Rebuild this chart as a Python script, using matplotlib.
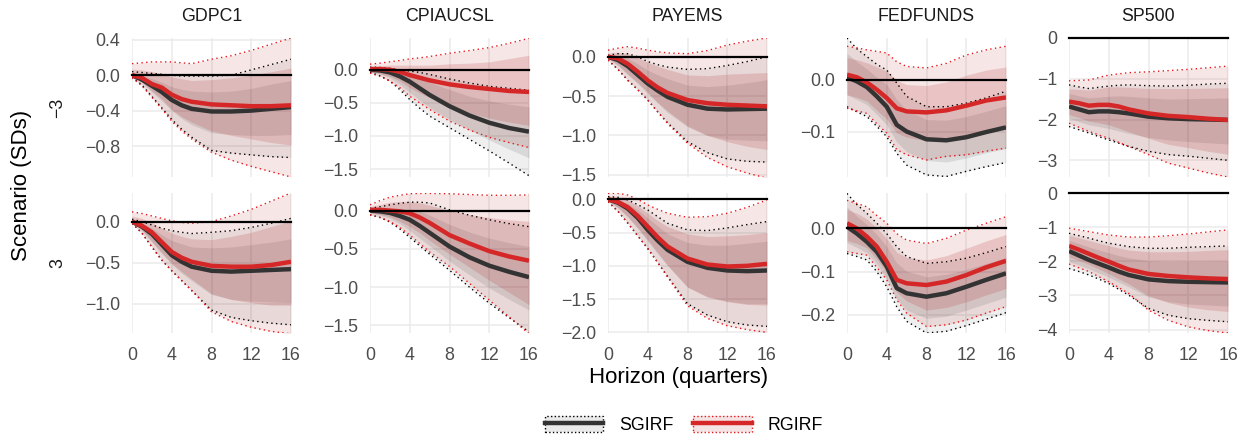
import numpy as np
import matplotlib.pyplot as plt
from matplotlib.lines import Line2D
from matplotlib.patches import Patch
from matplotlib.legend_handler import HandlerTuple
from matplotlib.ticker import MultipleLocator

plt.rcParams['font.family'] = ['Liberation Sans', 'DejaVu Sans']

# horizons (quarters) at which the IRFs are read
horizon = [0, 1, 2, 3, 4, 5, 6, 8, 10, 12, 14, 16]
variables = ['GDPC1', 'CPIAUCSL', 'PAYEMS', 'FEDFUNDS', 'SP500']
scenarios = ['\u22123', '3']

# each block: median, inner lo, inner hi, outer lo, outer hi
gdp_neg_sg = [
    [0, -0.05, -0.12, -0.19, -0.28, -0.34, -0.38, -0.41, -0.41, -0.40, -0.38, -0.36],
    [-0.01, -0.08, -0.19, -0.29, -0.40, -0.49, -0.56, -0.65, -0.67, -0.68, -0.68, -0.67],
    [0.02, -0.01, -0.04, -0.08, -0.13, -0.16, -0.18, -0.19, -0.18, -0.15, -0.10, -0.06],
    [-0.02, -0.11, -0.24, -0.37, -0.50, -0.61, -0.70, -0.85, -0.88, -0.90, -0.92, -0.93],
    [0.04, 0.03, 0.02, 0.01, 0.0, -0.01, -0.01, -0.01, 0.0, 0.06, 0.12, 0.18]]
gdp_neg_rg = [
    [0, -0.03, -0.10, -0.14, -0.22, -0.27, -0.30, -0.33, -0.34, -0.35, -0.35, -0.34],
    [-0.02, -0.08, -0.18, -0.27, -0.39, -0.47, -0.53, -0.63, -0.68, -0.72, -0.76, -0.79],
    [0.07, 0.06, 0.04, 0.02, -0.02, -0.04, -0.06, -0.05, -0.03, 0.0, 0.04, 0.08],
    [-0.03, -0.12, -0.25, -0.38, -0.52, -0.63, -0.72, -0.87, -0.96, -1.03, -1.09, -1.15],
    [0.13, 0.14, 0.15, 0.15, 0.15, 0.14, 0.13, 0.18, 0.22, 0.28, 0.35, 0.42]]
gdp_pos_sg = [
    [0, -0.06, -0.15, -0.28, -0.41, -0.49, -0.55, -0.60, -0.61, -0.60, -0.59, -0.58],
    [-0.01, -0.11, -0.25, -0.39, -0.52, -0.63, -0.72, -0.89, -0.95, -0.97, -0.98, -0.99],
    [0.02, -0.02, -0.08, -0.16, -0.23, -0.27, -0.31, -0.32, -0.31, -0.28, -0.25, -0.21],
    [-0.02, -0.14, -0.31, -0.47, -0.60, -0.72, -0.84, -1.08, -1.17, -1.21, -1.24, -1.26],
    [0.03, 0.0, -0.04, -0.08, -0.11, -0.13, -0.145, -0.13, -0.11, -0.07, -0.02, 0.04]]
gdp_pos_rg = [
    [0, -0.05, -0.13, -0.25, -0.37, -0.44, -0.49, -0.54, -0.55, -0.55, -0.53, -0.49],
    [-0.01, -0.10, -0.24, -0.38, -0.51, -0.61, -0.70, -0.88, -0.95, -0.99, -1.02, -1.02],
    [0.07, 0.04, -0.01, -0.08, -0.14, -0.18, -0.21, -0.22, -0.18, -0.13, -0.06, 0.01],
    [-0.02, -0.14, -0.31, -0.47, -0.60, -0.72, -0.84, -1.10, -1.22, -1.29, -1.34, -1.37],
    [0.12, 0.10, 0.07, 0.04, 0.01, -0.01, -0.02, 0.0, 0.07, 0.15, 0.25, 0.35]]

cpi_neg_sg = [
    [0, -0.01, -0.04, -0.10, -0.18, -0.28, -0.38, -0.55, -0.69, -0.80, -0.88, -0.935],
    [-0.02, -0.06, -0.12, -0.22, -0.34, -0.46, -0.57, -0.75, -0.91, -1.06, -1.20, -1.33],
    [0.02, 0.02, 0.0, -0.04, -0.08, -0.14, -0.19, -0.30, -0.40, -0.47, -0.52, -0.56],
    [-0.04, -0.09, -0.17, -0.30, -0.45, -0.58, -0.70, -0.875, -1.05, -1.225, -1.41, -1.60],
    [0.04, 0.035, 0.02, 0.0, -0.02, -0.04, -0.07, -0.14, -0.20, -0.25, -0.28, -0.31]]
cpi_neg_rg = [
    [0.01, 0.01, 0.0, -0.03, -0.08, -0.12, -0.16, -0.22, -0.26, -0.29, -0.32, -0.335],
    [-0.03, -0.06, -0.10, -0.17, -0.27, -0.35, -0.42, -0.55, -0.65, -0.73, -0.79, -0.84],
    [0.055, 0.064, 0.07, 0.07, 0.07, 0.07, 0.07, 0.09, 0.10, 0.12, 0.17, 0.22],
    [-0.05, -0.10, -0.17, -0.27, -0.40, -0.50, -0.60, -0.775, -0.91, -1.02, -1.10, -1.175],
    [0.085, 0.10, 0.12, 0.14, 0.165, 0.18, 0.20, 0.25, 0.29, 0.335, 0.40, 0.475]]
cpi_pos_sg = [
    [0, -0.01, -0.03, -0.07, -0.12, -0.20, -0.29, -0.47, -0.61, -0.72, -0.80, -0.87],
    [-0.03, -0.06, -0.10, -0.17, -0.26, -0.36, -0.46, -0.66, -0.84, -1.01, -1.16, -1.30],
    [0.02, 0.03, 0.03, 0.03, 0.02, -0.01, -0.06, -0.18, -0.28, -0.36, -0.42, -0.47],
    [-0.055, -0.09, -0.15, -0.24, -0.35, -0.46, -0.57, -0.78, -1.00, -1.21, -1.40, -1.585],
    [0.03, 0.05, 0.075, 0.095, 0.11, 0.11, 0.10, 0.01, -0.06, -0.12, -0.17, -0.21]]
cpi_pos_rg = [
    [0.01, 0.01, 0.0, -0.01, -0.035, -0.09, -0.16, -0.32, -0.43, -0.53, -0.60, -0.655],
    [-0.03, -0.05, -0.08, -0.14, -0.21, -0.29, -0.39, -0.57, -0.74, -0.91, -1.07, -1.23],
    [0.05, 0.08, 0.11, 0.12, 0.12, 0.10, 0.07, 0.0, -0.05, -0.09, -0.12, -0.14],
    [-0.055, -0.09, -0.14, -0.22, -0.32, -0.43, -0.54, -0.73, -0.95, -1.17, -1.39, -1.61],
    [0.075, 0.13, 0.175, 0.20, 0.22, 0.225, 0.225, 0.22, 0.21, 0.20, 0.20, 0.205]]

pay_neg_sg = [
    [0, -0.04, -0.12, -0.23, -0.34, -0.43, -0.51, -0.61, -0.66, -0.67, -0.665, -0.66],
    [-0.02, -0.11, -0.23, -0.34, -0.47, -0.59, -0.71, -0.89, -1.00, -1.05, -1.06, -1.07],
    [0.01, 0.01, -0.02, -0.09, -0.17, -0.23, -0.28, -0.36, -0.38, -0.36, -0.33, -0.29],
    [-0.04, -0.16, -0.30, -0.42, -0.55, -0.70, -0.84, -1.08, -1.22, -1.30, -1.33, -1.34],
    [0.02, 0.04, 0.04, 0.0, -0.06, -0.10, -0.13, -0.16, -0.15, -0.11, -0.06, 0.0]]
pay_neg_rg = [
    [0, -0.02, -0.09, -0.19, -0.30, -0.39, -0.46, -0.55, -0.59, -0.61, -0.62, -0.63],
    [-0.02, -0.10, -0.22, -0.33, -0.45, -0.58, -0.69, -0.88, -1.00, -1.08, -1.14, -1.18],
    [0.05, 0.06, 0.04, -0.01, -0.07, -0.12, -0.16, -0.23, -0.24, -0.22, -0.21, -0.20],
    [-0.04, -0.16, -0.30, -0.42, -0.55, -0.70, -0.85, -1.10, -1.28, -1.40, -1.48, -1.545],
    [0.085, 0.11, 0.13, 0.11, 0.085, 0.065, 0.05, 0.04, 0.08, 0.15, 0.20, 0.24]]
pay_pos_sg = [
    [0, -0.05, -0.14, -0.28, -0.46, -0.62, -0.76, -0.94, -1.03, -1.07, -1.08, -1.07],
    [-0.02, -0.13, -0.27, -0.44, -0.63, -0.82, -1.00, -1.32, -1.46, -1.53, -1.57, -1.57],
    [0.02, 0.0, -0.06, -0.16, -0.28, -0.40, -0.52, -0.65, -0.69, -0.69, -0.66, -0.63],
    [-0.035, -0.18, -0.36, -0.55, -0.74, -0.95, -1.16, -1.57, -1.74, -1.84, -1.89, -1.91],
    [0.04, 0.03, -0.01, -0.08, -0.16, -0.26, -0.36, -0.46, -0.47, -0.43, -0.38, -0.335]]
pay_pos_rg = [
    [0, -0.04, -0.12, -0.25, -0.41, -0.57, -0.71, -0.89, -0.98, -1.01, -1.00, -0.97],
    [-0.02, -0.12, -0.26, -0.43, -0.61, -0.80, -0.99, -1.32, -1.47, -1.54, -1.58, -1.59],
    [0.05, 0.04, -0.01, -0.10, -0.21, -0.32, -0.41, -0.52, -0.56, -0.55, -0.53, -0.50],
    [-0.035, -0.18, -0.36, -0.55, -0.74, -0.95, -1.17, -1.60, -1.79, -1.90, -1.96, -2.00],
    [0.09, 0.09, 0.065, 0.0, -0.085, -0.15, -0.21, -0.27, -0.26, -0.21, -0.12, -0.01]]

ff_neg_sg = [
    [0.005, -0.003, -0.014, -0.032, -0.052, -0.087, -0.100, -0.115, -0.117, -0.111, -0.101, -0.092],
    [-0.029, -0.038, -0.048, -0.067, -0.087, -0.120, -0.139, -0.156, -0.159, -0.151, -0.141, -0.133],
    [0.051, 0.035, 0.021, 0.005, -0.009, -0.038, -0.059, -0.077, -0.078, -0.071, -0.061, -0.050],
    [-0.052, -0.062, -0.071, -0.090, -0.110, -0.142, -0.165, -0.184, -0.187, -0.177, -0.168, -0.160],
    [0.081, 0.060, 0.045, 0.030, 0.019, -0.006, -0.032, -0.052, -0.052, -0.045, -0.035, -0.022]]
ff_neg_rg = [
    [0.010, 0.005, -0.005, -0.019, -0.035, -0.055, -0.061, -0.063, -0.059, -0.050, -0.040, -0.034],
    [-0.029, -0.034, -0.041, -0.059, -0.076, -0.103, -0.111, -0.118, -0.112, -0.107, -0.099, -0.093],
    [0.043, 0.039, 0.033, 0.025, 0.017, -0.001, -0.009, -0.011, -0.004, 0.009, 0.019, 0.025],
    [-0.055, -0.060, -0.065, -0.085, -0.103, -0.135, -0.145, -0.155, -0.148, -0.145, -0.138, -0.132],
    [0.065, 0.062, 0.058, 0.055, 0.052, 0.035, 0.026, 0.023, 0.032, 0.048, 0.058, 0.065]]
ff_pos_sg = [
    [0.004, -0.012, -0.031, -0.054, -0.088, -0.138, -0.150, -0.158, -0.150, -0.135, -0.119, -0.104],
    [-0.033, -0.044, -0.056, -0.082, -0.116, -0.164, -0.189, -0.208, -0.203, -0.189, -0.174, -0.159],
    [0.050, 0.028, 0.009, -0.014, -0.042, -0.080, -0.099, -0.112, -0.106, -0.095, -0.081, -0.067],
    [-0.058, -0.065, -0.073, -0.100, -0.135, -0.181, -0.215, -0.242, -0.238, -0.225, -0.210, -0.195],
    [0.081, 0.055, 0.035, 0.012, -0.012, -0.042, -0.065, -0.081, -0.077, -0.069, -0.056, -0.042]]
ff_pos_rg = [
    [0.012, 0.0, -0.019, -0.042, -0.077, -0.119, -0.127, -0.131, -0.123, -0.108, -0.090, -0.075],
    [-0.028, -0.035, -0.045, -0.071, -0.102, -0.147, -0.168, -0.189, -0.183, -0.170, -0.154, -0.139],
    [0.044, 0.035, 0.022, 0.001, -0.024, -0.055, -0.067, -0.073, -0.063, -0.046, -0.029, -0.014],
    [-0.054, -0.058, -0.062, -0.090, -0.119, -0.165, -0.196, -0.227, -0.223, -0.212, -0.196, -0.181],
    [0.065, 0.058, 0.050, 0.030, 0.012, -0.012, -0.027, -0.035, -0.023, -0.004, 0.012, 0.027]]

sp_neg_sg = [
    [-1.68, -1.75, -1.82, -1.80, -1.80, -1.82, -1.85, -1.93, -1.97, -1.99, -2.00, -2.01],
    [-1.97, -2.05, -2.13, -2.17, -2.22, -2.28, -2.34, -2.44, -2.50, -2.54, -2.57, -2.60],
    [-1.36, -1.42, -1.47, -1.45, -1.43, -1.42, -1.43, -1.47, -1.50, -1.49, -1.48, -1.47],
    [-2.17, -2.25, -2.33, -2.42, -2.50, -2.58, -2.66, -2.78, -2.86, -2.90, -2.95, -3.00],
    [-1.15, -1.20, -1.24, -1.21, -1.18, -1.16, -1.15, -1.17, -1.18, -1.16, -1.13, -1.11]]
sp_neg_rg = [
    [-1.56, -1.60, -1.66, -1.64, -1.64, -1.68, -1.75, -1.85, -1.91, -1.94, -1.98, -2.01],
    [-1.88, -1.95, -2.04, -2.08, -2.13, -2.21, -2.30, -2.46, -2.61, -2.69, -2.78, -2.85],
    [-1.25, -1.26, -1.28, -1.24, -1.20, -1.20, -1.21, -1.24, -1.24, -1.24, -1.23, -1.22],
    [-2.09, -2.19, -2.29, -2.38, -2.46, -2.56, -2.66, -2.86, -3.07, -3.19, -3.31, -3.41],
    [-1.05, -1.04, -1.03, -0.97, -0.91, -0.88, -0.85, -0.83, -0.80, -0.77, -0.73, -0.69]]
sp_pos_sg = [
    [-1.70, -1.83, -1.96, -2.07, -2.18, -2.30, -2.40, -2.53, -2.58, -2.60, -2.61, -2.62],
    [-2.01, -2.11, -2.22, -2.34, -2.46, -2.61, -2.75, -3.04, -3.18, -3.25, -3.28, -3.31],
    [-1.39, -1.48, -1.58, -1.67, -1.75, -1.83, -1.90, -1.98, -2.00, -1.99, -1.99, -1.98],
    [-2.21, -2.30, -2.40, -2.52, -2.65, -2.82, -2.99, -3.38, -3.58, -3.68, -3.73, -3.77],
    [-1.18, -1.25, -1.32, -1.40, -1.47, -1.52, -1.57, -1.62, -1.62, -1.59, -1.57, -1.55]]
sp_pos_rg = [
    [-1.55, -1.66, -1.78, -1.90, -2.01, -2.13, -2.24, -2.37, -2.43, -2.47, -2.50, -2.52],
    [-1.87, -1.98, -2.09, -2.23, -2.36, -2.51, -2.66, -3.01, -3.21, -3.34, -3.42, -3.47],
    [-1.24, -1.31, -1.39, -1.47, -1.54, -1.61, -1.67, -1.72, -1.72, -1.71, -1.68, -1.66],
    [-2.08, -2.19, -2.30, -2.45, -2.60, -2.77, -2.94, -3.43, -3.73, -3.92, -4.03, -4.10],
    [-1.03, -1.08, -1.13, -1.18, -1.23, -1.26, -1.29, -1.29, -1.25, -1.20, -1.14, -1.08]]

panels = [
    [(gdp_neg_sg, gdp_neg_rg), (cpi_neg_sg, cpi_neg_rg), (pay_neg_sg, pay_neg_rg),
     (ff_neg_sg, ff_neg_rg), (sp_neg_sg, sp_neg_rg)],
    [(gdp_pos_sg, gdp_pos_rg), (cpi_pos_sg, cpi_pos_rg), (pay_pos_sg, pay_pos_rg),
     (ff_pos_sg, ff_pos_rg), (sp_pos_sg, sp_pos_rg)],
]
ylims = [
    [(-1.15, 0.42), (-1.62, 0.48), (-1.53, 0.24), (-0.188, 0.081), (-3.41, 0.0)],
    [(-1.36, 0.35), (-1.60, 0.23), (-2.01, 0.095), (-0.242, 0.082), (-4.10, 0.0)],
]
ysteps = [[0.4, 0.5, 0.5, 0.1, 1], [0.5, 0.5, 0.5, 0.1, 1]]

SG_LINE, SG_FILL, SG_DOT = '#333333', '#333333', '#000000'
RG_LINE, RG_FILL, RG_DOT = '#d62728', '#b22222', '#e8161b'
A_OUT_SG, A_IN_SG = 0.075, 0.12
A_OUT_RG, A_IN_RG = 0.11, 0.17
DOTS = (0, (1, 2.4))

W, H = 1250, 438
col_left = [132, 370, 608, 847, 1069]
panel_w = 159
row_top = [38, 193]
row_h = [139, 140]

fig = plt.figure(figsize=(W / 100, H / 100), dpi=100)

for r in range(2):
    for c in range(5):
        ax = fig.add_axes([col_left[c] / W, 1 - (row_top[r] + row_h[r]) / H,
                           panel_w / W, row_h[r] / H])
        sg, rg = panels[r][c]
        for d, fill, a_out, a_in in [(sg, SG_FILL, A_OUT_SG, A_IN_SG),
                                     (rg, RG_FILL, A_OUT_RG, A_IN_RG)]:
            ax.fill_between(horizon, d[3], d[4], color=fill, alpha=a_out, lw=0)
            ax.fill_between(horizon, d[1], d[2], color=fill, alpha=a_in, lw=0)
        for d, dot in [(sg, SG_DOT), (rg, RG_DOT)]:
            ax.plot(horizon, d[3], color=dot, lw=1.0, ls=DOTS)
            ax.plot(horizon, d[4], color=dot, lw=1.0, ls=DOTS)
        ax.plot(horizon, sg[0], color=SG_LINE, lw=3.2, solid_capstyle='butt')
        ax.plot(horizon, rg[0], color=RG_LINE, lw=3.2, solid_capstyle='butt')
        ax.axhline(0, color='black', lw=1.6, zorder=5, clip_on=False)

        ax.set_xlim(0, 16)
        ax.set_ylim(*ylims[r][c])
        ax.xaxis.set_major_locator(MultipleLocator(4))
        ax.yaxis.set_major_locator(MultipleLocator(ysteps[r][c]))
        ax.grid(True, color='#ebebeb', lw=1.1)
        ax.set_axisbelow(True)
        for s in ax.spines.values():
            s.set_visible(False)
        ax.tick_params(length=0, labelsize=12.8, labelcolor='#4d4d4d')
        ax.tick_params(axis='y', pad=8.5)
        ax.tick_params(axis='x', pad=10)
        if r == 0:
            ax.set_xticklabels([])
            ax.set_title(variables[c], fontsize=12.8, color='#1a1a1a', pad=12)

for r in range(2):
    yc = row_top[r] + row_h[r] / 2
    fig.text(58 / W, 1 - yc / H, scenarios[r], rotation=90, ha='center',
             va='center', fontsize=12.8, color='#1a1a1a')

fig.text(22 / W, 1 - 185 / H, 'Scenario (SDs)', rotation=90, ha='center',
         va='center', fontsize=16)
fig.text(679 / W, 1 - 378 / H, 'Horizon (quarters)', ha='center',
         va='center', fontsize=16)

h_sg = (Patch(facecolor=SG_FILL, alpha=0.1, edgecolor='none'),
        Patch(facecolor='none', edgecolor=SG_DOT, linestyle=':', lw=1.0),
        Line2D([], [], color=SG_LINE, lw=3.2))
h_rg = (Patch(facecolor=RG_FILL, alpha=0.12, edgecolor='none'),
        Patch(facecolor='none', edgecolor=RG_DOT, linestyle=':', lw=1.0),
        Line2D([], [], color=RG_LINE, lw=3.2))
fig.legend([h_sg, h_rg], ['SGIRF', 'RGIRF'], loc='center',
           bbox_to_anchor=(684 / W, 1 - 425 / H), ncol=2, frameon=False,
           fontsize=12.8, handlelength=3.3, handleheight=1.0,
           handletextpad=0.9, columnspacing=1.1,
           handler_map={tuple: HandlerTuple(ndivide=1, pad=0)})

fig.savefig('out.png', dpi=100)
